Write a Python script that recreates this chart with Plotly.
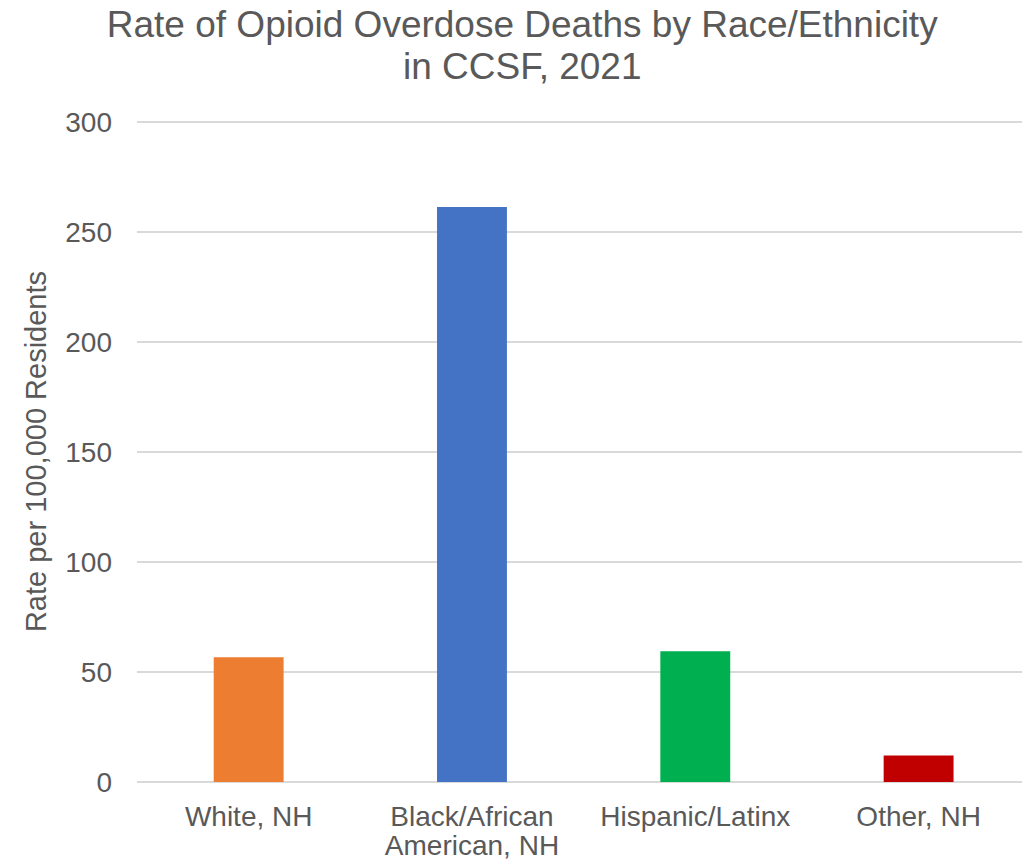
import plotly.graph_objects as go

categories = ["White, NH", "Black/African<br>American, NH", "Hispanic/Latinx", "Other, NH"]
rates = [56.7, 261.4, 59.4, 12.1]
colors = ["#ED7D31", "#4472C4", "#00B050", "#C00000"]
y_ticks = [0, 50, 100, 150, 200, 250, 300]

title_text = "Rate of Opioid Overdose Deaths by Race/Ethnicity<br>in CCSF, 2021"
y_title = "Rate per 100,000 Residents"

grey = "#595959"
font_family = "Liberation Sans, Arial, sans-serif"

def big(s, size):
    return "<br>".join(f'<span style="font-size:{size}px">{p}</span>' for p in s.split("<br>"))

fig = go.Figure(
    go.Bar(
        x=categories,
        y=rates,
        marker=dict(color=colors, line=dict(width=0)),
        hoverinfo="x+y",
    )
)

fig.update_layout(
    width=1022,
    height=864,
    margin=dict(l=137, r=0, t=120.6, b=82.3),
    paper_bgcolor="white",
    plot_bgcolor="white",
    bargap=0.687,
    showlegend=False,
    font=dict(family=font_family, color=grey),
    title=dict(
        text=big(title_text, 37),
        font=dict(size=32, color=grey, family=font_family),
        xref="container",
        x=0.511,
        xanchor="center",
        yref="container",
        y=0.957,
        yanchor="top",
    ),
)

fig.update_xaxes(
    type="category",
    range=[-0.5, 3.463],
    tickvals=categories,
    ticktext=[big(c, 28) for c in categories],
    tickfont=dict(size=22.5, color=grey),
    showgrid=False,
    showline=False,
    ticks="",
    zeroline=False,
    ticklabelstandoff=20,
)

fig.update_yaxes(
    range=[0, 300.5],
    tickvals=y_ticks,
    tickfont=dict(size=28, color=grey),
    showgrid=True,
    gridcolor="#D9D9D9",
    gridwidth=1.5,
    zeroline=True,
    zerolinecolor="#D9D9D9",
    zerolinewidth=1.5,
    showline=False,
    ticks="",
    ticklabelstandoff=24,
    title=dict(text=y_title, font=dict(size=29, color=grey), standoff=10),
)

fig.write_html("out.html")
